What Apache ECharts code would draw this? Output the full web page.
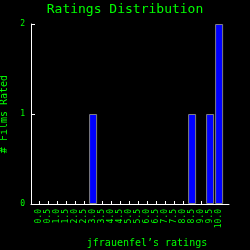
<!DOCTYPE html>
<html><head><meta charset="utf-8">
<script src="https://cdn.jsdelivr.net/npm/echarts@6/dist/echarts.min.js"></script>
<style>html,body{margin:0;padding:0;background:#000;}#c{width:250px;height:250px;}</style>
</head><body><div id="c"></div>
<script>
var ratings = ['0.0','0.5','1.0','1.5','2.0','2.5','3.0','3.5','4.0','4.5','5.0','5.5','6.0','6.5','7.0','7.5','8.0','8.5','9.0','9.5','10.0'];
var counts  = [0,0,0,0,0,0,1,0,0,0,0,0,0,0,0,0,0,1,0,1,2];
var yTicks = [0,1,2];
var titleText = 'Ratings Distribution';
var xName = 'jfrauenfel\u2019s ratings';
var yName = '# Films Rated';

var GREEN = '#00ff00';
var FONT = 'DejaVu Sans Mono';
var tickVals = ratings.map(function(r){return parseFloat(r);});
var barData = [];
ratings.forEach(function(r,i){ if(counts[i]>0) barData.push([parseFloat(r), counts[i]]); });

var chart = echarts.init(document.getElementById('c'), null, {renderer:'canvas'});
chart.setOption({
  backgroundColor:'#000',
  animation:false,
  title:{text:titleText,left:'center',top:-2,textStyle:{color:GREEN,fontFamily:FONT,fontSize:13,fontWeight:'normal'}},
  grid:{left:31,right:21,top:24,bottom:46,containLabel:false,outerBoundsMode:'none'},
  xAxis:{
    type:'value',min:-0.45,max:10.55,
    name:xName,nameLocation:'middle',nameGap:34,
    nameTextStyle:{color:GREEN,fontFamily:FONT,fontSize:10,padding:[0,0,0,34]},
    axisLine:{show:true,onZero:false,lineStyle:{color:'#fff',width:1}},
    axisTick:{show:true,inside:true,length:3,customValues:tickVals,lineStyle:{color:'#fff'}},
    axisLabel:{show:true,rotate:90,customValues:tickVals,color:GREEN,fontFamily:FONT,fontSize:8,margin:5,hideOverlap:false,
      formatter:function(v){return v.toFixed(1);}},
    splitLine:{show:false}
  },
  yAxis:{
    type:'value',min:0,max:2,interval:1,
    name:yName,nameLocation:'middle',nameGap:18,
    nameTextStyle:{color:GREEN,fontFamily:FONT,fontSize:10},
    axisLine:{show:true,onZero:false,lineStyle:{color:'#fff',width:1}},
    axisTick:{show:true,inside:true,length:4,lineStyle:{color:'#fff'}},
    axisLabel:{color:GREEN,fontFamily:FONT,fontSize:8,margin:6,
      formatter:function(v){return yTicks.indexOf(v)>=0?String(v):'';}},
    splitLine:{show:false}
  },
  series:[{
    type:'bar',data:barData,barWidth:8,
    itemStyle:{color:'#0000ff',borderColor:'#808080',borderWidth:1}
  }]
});
</script></body></html>
